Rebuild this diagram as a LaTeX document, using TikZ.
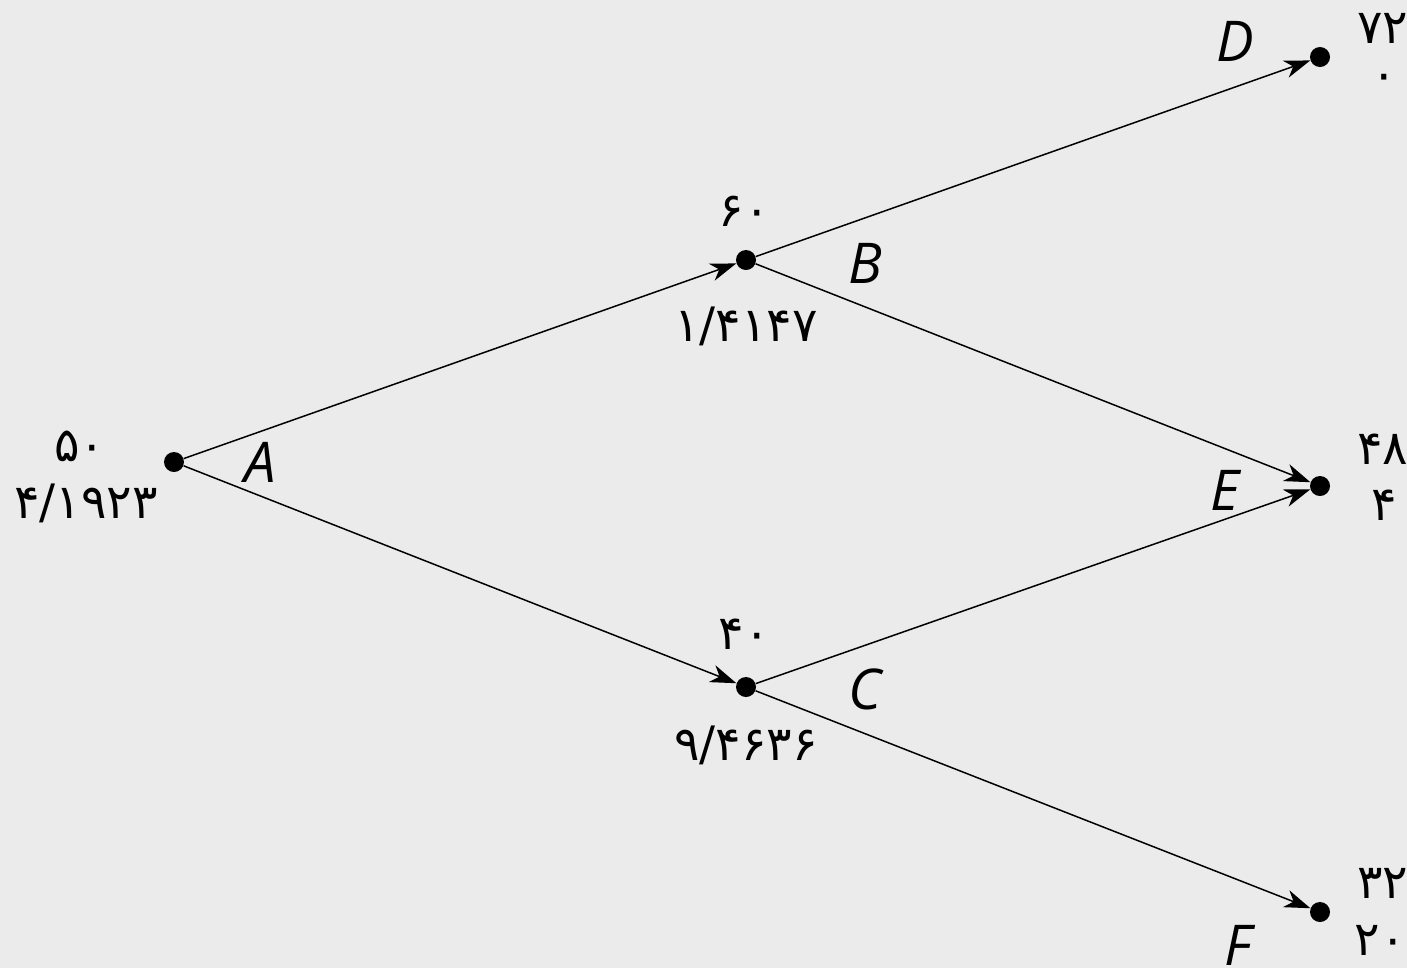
\documentclass[tikz,border=0pt]{standalone}
\usepackage{fontspec}
\setmainfont{Open Sans}
\newfontfamily\pdig{DejaVu Sans}
\usetikzlibrary{arrows.meta}
\definecolor{bg}{HTML}{EBEBEB}
\tikzset{
  dot/.style={circle,fill=black,inner sep=0pt,minimum size=0.4cm},
  arr/.style={line width=0.85pt,-{Stealth[length=0.52cm,width=0.36cm,inset=0.16cm]}},
  letter/.style={font=\fontsize{32}{36}\selectfont\itshape,inner sep=0pt},
  num/.style={font=\pdig\fontsize{27}{30}\selectfont,inner sep=0pt}
}
\begin{document}
\begin{tikzpicture}[x=0.02cm,y=-0.02cm]
\useasboundingbox (0,0) rectangle (1407,968);
\clip (0,0) rectangle (1407,968);
\fill[bg] (0,0) rectangle (1407,968);
\node[dot] (A) at (174,462) {};
\node[dot] (B) at (746,260) {};
\node[dot] (C) at (746,687) {};
\node[dot] (D) at (1320,57) {};
\node[dot] (E) at (1320,486) {};
\node[dot] (F) at (1320,912) {};
\draw[arr] (A) -- (B);
\draw[arr] (A) -- (C);
\draw[arr] (B) -- (D);
\draw[arr] (B) -- (E);
\draw[arr] (C) -- (E);
\draw[arr] (C) -- (F);
\node[letter] (lA) at (260,462) {A};
\node[letter] (lB) at (865,263) {B};
\node[letter] (lC) at (865,689) {C};
\node[letter] (lD) at (1235,41) {D};
\node[letter] (lE) at (1225,490) {E};
\node[letter] (lF) at (1238,945) {F};
\node[num] (tA) at (80,446) {۵۰};
\node[num] (bA) at (86,503) {۴/۱۹۲۳};
\node[num] (tB) at (744,211) {۶۰};
\node[num] (bB) at (746,326) {۱/۴۱۴۷};
\node[num] (tC) at (744,634) {۴۰};
\node[num] (bC) at (746,745) {۹/۴۶۳۶};
\node[num,anchor=west] (tD) at (1357,28) {۷۲};
\node[num] (bD) at (1384,82) {۰};
\node[num,anchor=west] (tE) at (1357,449) {۴۸};
\node[num] (bE) at (1384,505) {۴};
\node[num,anchor=west] (tF) at (1357,883) {۳۲};
\node[num] (bF) at (1380,940) {۲۰};
\end{tikzpicture}
\end{document}
